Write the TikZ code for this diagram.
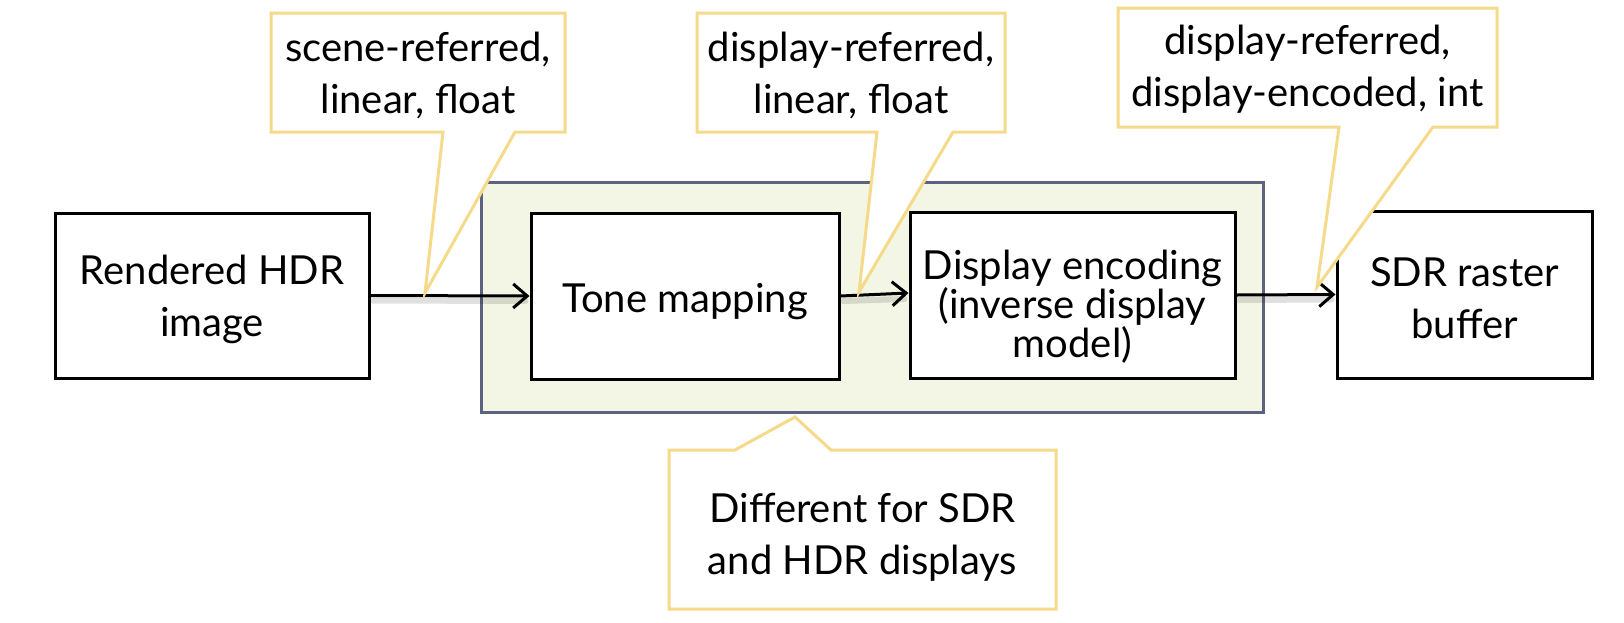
\documentclass[tikz,border=0pt]{standalone}
\usepackage{fontspec}
\setmainfont{Lato}
\usetikzlibrary{arrows.meta,calc}
\definecolor{callc}{HTML}{F5DA8A}
\definecolor{grpborder}{HTML}{5C6280}
\definecolor{grpfill}{HTML}{F3F6E5}
\tikzset{
  box/.style={draw=black, line width=1.5pt, fill=white, inner sep=0pt},
  txt/.style={align=center, inner sep=0pt},
  grpbox/.style={draw=grpborder, line width=1.5pt, fill=grpfill, inner sep=0pt},
  callline/.style={draw=callc, line width=1.5pt, fill=white, line join=miter},
  arr/.style={line width=1.5pt, -{Straight Barb[length=7pt,width=12pt,line width=1.5pt]}},
  arrshadow/.style={line width=3pt, black, opacity=0.12, line cap=round},
}
\begin{document}
\begin{tikzpicture}[x=0.5pt,y=-0.5pt, font=\fontsize{20}{26}\selectfont]
\useasboundingbox (0,0) rectangle (1624,622);

% container
\node[grpbox, minimum width=391pt, minimum height=115pt] (grp) at (872,297) {};

% boxes
\node[box, minimum width=157pt, minimum height=82.5pt] (hdr) at (212,295.5) {};
\node[txt] (hdrt) at ($(hdr.center)+(0,4)$) {Rendered HDR\\image};
\node[box, minimum width=154pt, minimum height=83pt] (tone) at (685,296) {};
\node[txt] (tonet) at ($(tone.center)+(0,6)$) {Tone mapping};
\node[box, minimum width=162.5pt, minimum height=83pt] (disp) at (1072.5,295) {};
\node[txt, font=\fontsize{20}{19.5}\selectfont] (dispt) at ($(disp.center)+(0,12)$) {Display encoding\\(inverse display\\model)};
\node[box, minimum width=127.5pt, minimum height=83.5pt] (sdr) at (1464.5,294.5) {};
\node[txt] (sdrt) at ($(sdr.center)+(0,4)$) {SDR raster\\buffer};

% arrow shadows
\draw[arrshadow] ($(hdr.east)+(2,5)$) -- ($(tone.west)+(-4,5)$);
\draw[arrshadow] ($(tone.east)+(2,5)$) -- ($(disp.west)+(-4,4)$);
\draw[arrshadow] ($(disp.east)+(2,5)$) -- ($(sdr.west)+(-4,5)$);

% arrows
\draw[arr] (hdr.east) -- (tone.west);
\draw[arr] (tone.east) -- ($(disp.west)+(0,-2)$);
\draw[arr] (disp.east) -- (sdr.west);

% callout 1
\coordinate (t1) at (425,293);
\draw[callline] (271,13) -- (565,13) -- (565,132) -- (515,132) -- (t1) -- (443,132) -- (271,132) -- cycle;
\node[txt] (c1) at (418,75) {scene-referred,\\linear, float};

% callout 2
\coordinate (t2) at (859,292);
\draw[callline] (697,13) -- (1005,13) -- (1005,132) -- (953,132) -- (t2) -- (877,132) -- (697,132) -- cycle;
\node[txt] (c2) at (851,75) {display-referred,\\linear, float};

% callout 3
\coordinate (t3) at (1317,287);
\draw[callline] (1118,8) -- (1497,8) -- (1497,127) -- (1433,127) -- (t3) -- (1339,127) -- (1118,127) -- cycle;
\node[txt] (c3) at (1307.5,69) {display-referred,\\display-encoded, int};

% callout 4
\coordinate (t4) at (795,417);
\draw[callline] (669,450) -- (735,450) -- (t4) -- (831,450) -- (1056,450) -- (1056,609) -- (669,609) -- cycle;
\node[txt] (c4) at (862.5,537) {Different for SDR\\and HDR displays};
\end{tikzpicture}
\end{document}
